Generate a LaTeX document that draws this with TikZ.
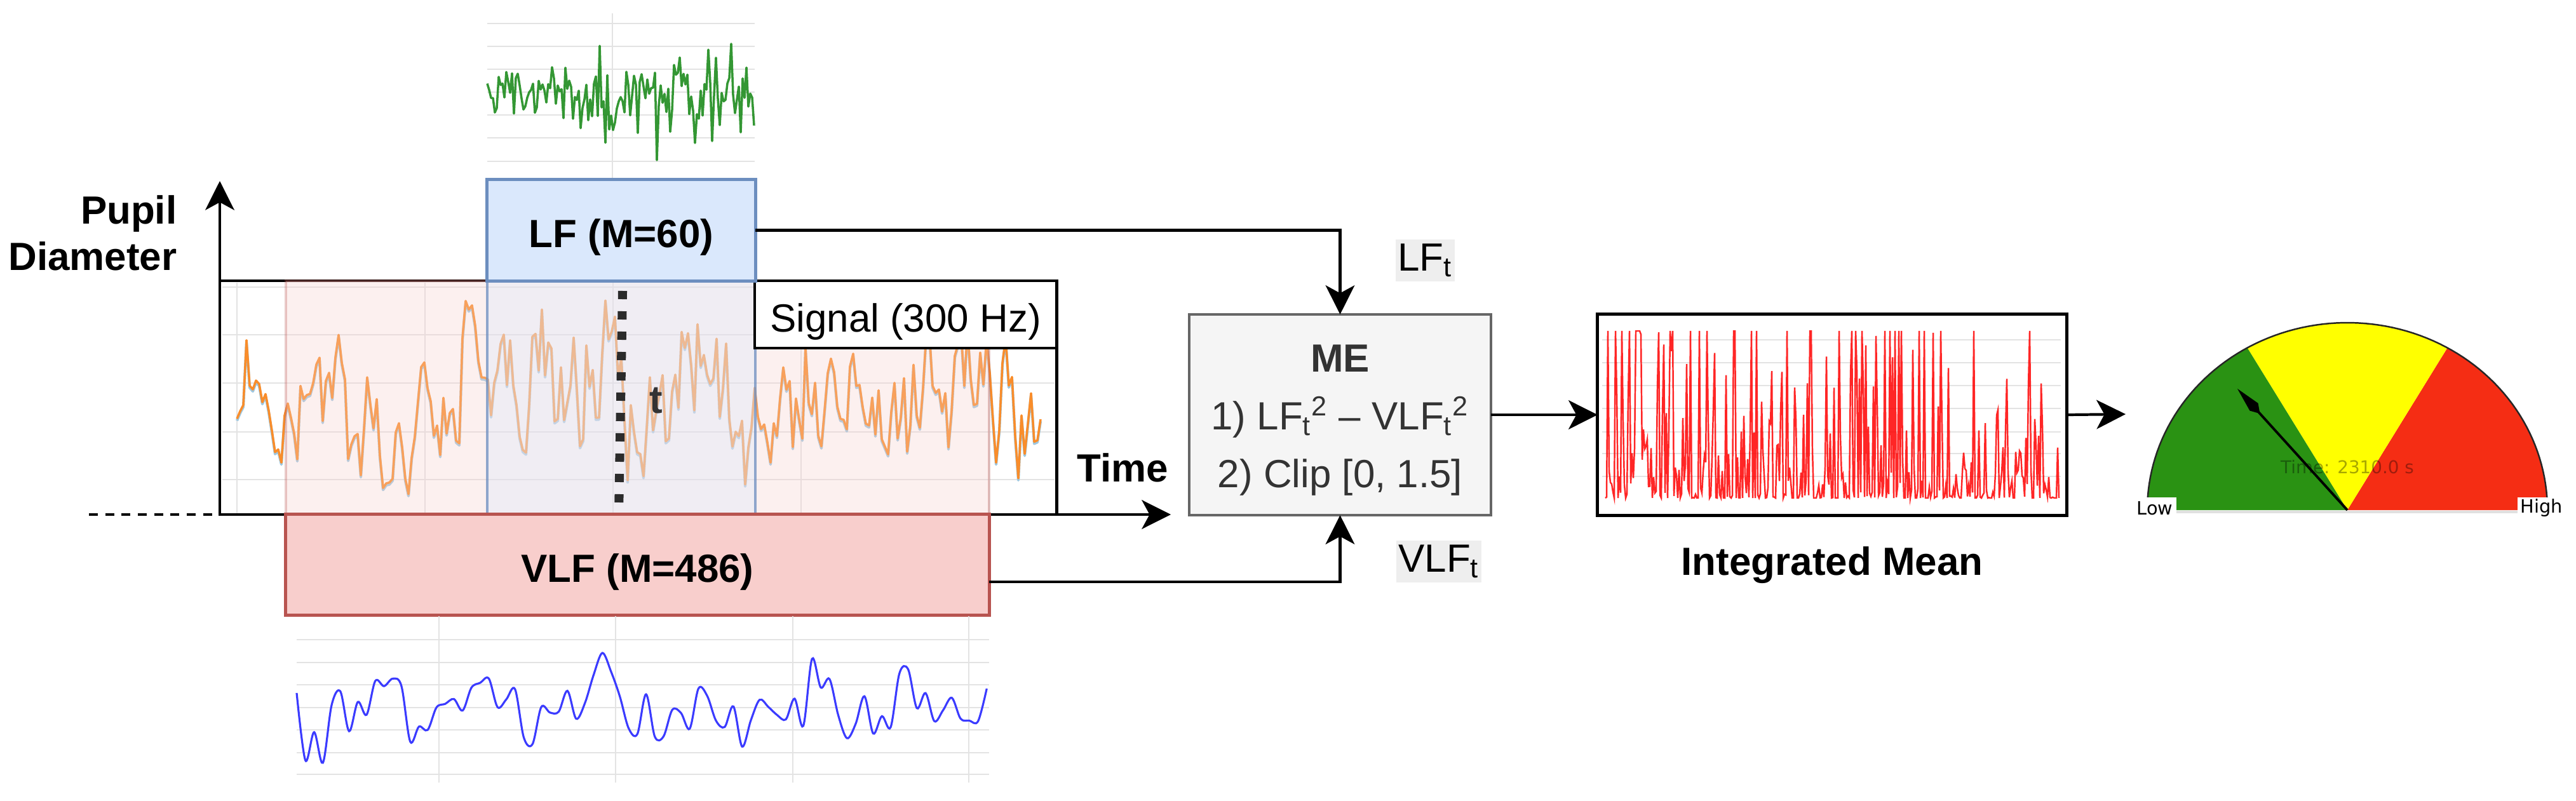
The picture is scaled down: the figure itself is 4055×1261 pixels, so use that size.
\documentclass[tikz,border=0pt]{standalone}
\usepackage{fontspec}
\setmainfont{Liberation Sans}
\newfontfamily\djv{DejaVu Sans}
\usetikzlibrary{arrows.meta}
\definecolor{lfFill}{HTML}{DAE8FC}
\definecolor{lfDraw}{HTML}{6C8EBF}
\definecolor{vlfFill}{HTML}{F8CECC}
\definecolor{vlfDraw}{HTML}{B85450}
\definecolor{meFill}{HTML}{F5F5F5}
\definecolor{meDraw}{HTML}{666666}
\definecolor{meText}{HTML}{333333}
\definecolor{lblBg}{HTML}{EEEEEE}
\definecolor{gridC}{HTML}{E3E3E3}
\definecolor{sigOrange}{HTML}{F98D2B}
\definecolor{sigShadow}{HTML}{9FC8E0}
\definecolor{sigGreen}{HTML}{1E8C1E}
\definecolor{sigBlue}{HTML}{3B3BFF}
\definecolor{sigRed}{HTML}{FF0000}
\definecolor{gGreen}{HTML}{2A9213}
\definecolor{gYellow}{HTML}{FFFF00}
\definecolor{gRed}{HTML}{F52D14}
\definecolor{dotC}{HTML}{2B2B2B}
\newcommand{\fmain}{\fontsize{17.6}{20.8}\selectfont}
\newcommand{\fme}{\fontsize{17.6}{26}\selectfont}
\newcommand{\plotpts}[2]{\edef\myplotcmd{\noexpand\draw[#1] plot coordinates {#2};}\myplotcmd}
\begin{document}
\begin{tikzpicture}[x=0.01cm,y=-0.01cm,
  arr/.style={line width=1.2pt,-{Stealth[length=13pt,width=13pt,inset=3.5pt]}},
  dio/.style={inner sep=0pt,outer sep=0pt,text height=20pt,text depth=4.4pt},
  gridline/.style={gridC,line width=0.6pt},
  boxshape/.style={inner sep=0pt,outer sep=0pt}]
\useasboundingbox (0,0) rectangle (4055,1261);

% ---------- green LF signal (top)
\foreach \yy in {37,73,109,145,181,217,254} \draw[gridline] (767,\yy) -- (1188,\yy);
\draw[gridline] (964,21) -- (964,283);
\pgfmathsetseed{11}
\gdef\greenpts{}
\foreach \i in {0,...,140}{%
  \pgfmathsetmacro\myR{rand}\pgfmathsetmacro\myS{rand}%
  \pgfmathsetmacro\xx{767+3*\i}%
  \pgfmathsetmacro\yy{150-28*\myR-90*\myS*\myS*\myS*\myS*\myS+10*sin(\i*17)}%
  \xdef\greenpts{\greenpts(\xx,\yy)}}
\plotpts{sigGreen,line width=1pt,line join=round,opacity=0.9}{\greenpts}

% ---------- signal box
\node[boxshape,draw,fill=white,line width=1.2pt,minimum width=13.17cm,minimum height=3.68cm] (sigbox) at (1004.5,626) {};
\foreach \yy in {452,527,603,680,755} \draw[gridline] (350,\yy) -- (1660,\yy);
\foreach \xx in {373,669,965,1261,1557} \draw[gridline] (\xx,445) -- (\xx,808);
\pgfmathsetseed{7}
\gdef\orpts{}
\gdef\prevv{0}
\foreach \i in {0,...,253}{%
  \pgfmathsetmacro\myR{rand}\pgfmathsetmacro\myS{rand}%
  \pgfmathsetmacro\vv{0.5*\prevv+85*\myR+60*\myS*\myS*\myS}%
  \xdef\prevv{\vv}%
  \pgfmathsetmacro\xx{373+5*\i}%
  \pgfmathsetmacro\yy{max(468,min(802,635-\vv+30*sin(\i*9)+22*sin(\i*2.7+40)))}%
  \xdef\orpts{\orpts(\xx,\yy)}}
\plotpts{sigShadow,line width=1.2pt,yshift=-0.03cm,line join=round}{\orpts}
\plotpts{sigOrange,line width=1pt,line join=round}{\orpts}

% ---------- axes
\coordinate (o) at (346,810);
\coordinate (ytip) at (346,285);
\coordinate (xtip) at (1843,810);
\coordinate (dl) at (140,810);
\draw[arr] (o) -- (ytip);
\draw[arr] (o) -- (xtip);
\draw[line width=1.2pt,dash pattern=on 4pt off 3.3pt] (dl) -- (o);

% ---------- window overlays
\node[boxshape,draw=vlfDraw,draw opacity=0.3,fill=vlfFill,fill opacity=0.3,line width=1.2pt,minimum width=11.07cm,minimum height=3.68cm] (vlfwin) at (1003.5,626) {};
\node[boxshape,draw=lfDraw,draw opacity=0.75,fill=lfFill,fill opacity=0.35,line width=1.2pt,minimum width=4.22cm,minimum height=3.68cm] (lfwin) at (978,626) {};

% ---------- current time marker
\coordinate (tt) at (980,458);
\coordinate (tb) at (974,810);
\draw[dotC,line width=4pt,dash pattern=on 3.7pt off 5.4pt] (tt) -- (tb);
\node[font=\fmain\bfseries,text=meText,anchor=base west,inner sep=0pt] (tlab) at (1022,650) {t};

% ---------- labels / boxes
\node[draw,fill=white,line width=1.2pt,minimum width=4.75cm,minimum height=1.06cm,dio,font=\fmain] (siglab) at (1425.5,495) {Signal (300 Hz)};
\node[draw=lfDraw,fill=lfFill,line width=1.4pt,minimum width=4.22cm,minimum height=1.59cm,dio,font=\fmain\bfseries] (lf) at (978,362.5) {LF (M=60)};
\node[draw=vlfDraw,fill=vlfFill,line width=1.4pt,minimum width=11.07cm,minimum height=1.58cm,dio,font=\fmain\bfseries] (vlf) at (1003.5,889) {VLF (M=486)};
\node[font=\fmain\bfseries,align=right,anchor=east,inner sep=0pt] (ylab) at (279,367) {Pupil\\Diameter};
\node[font=\fmain\bfseries,anchor=base west,inner sep=0pt] (xlab) at (1695,758) {Time};

% ---------- blue VLF signal (bottom)
\foreach \yy in {1007,1043,1078,1114,1149,1185,1219} \draw[gridline] (467,\yy) -- (1557,\yy);
\foreach \xx in {691,969,1248,1525} \draw[gridline] (\xx,970) -- (\xx,1232);
\pgfmathsetseed{5}
\gdef\bluepts{}
\foreach \i in {0,...,79}{%
  \pgfmathsetmacro\myR{rand}\pgfmathsetmacro\myS{rand}%
  \pgfmathsetmacro\xx{467+13.75*\i}%
  \pgfmathsetmacro\yy{1115-50*\myR-40*\myS*\myS*\myS+18*sin(\i*29)}%
  \xdef\bluepts{\bluepts(\xx,\yy)}}
\plotpts{sigBlue,line width=0.9pt,smooth,tension=0.55}{\bluepts}

% ---------- ME block
\node[draw=meDraw,fill=meFill,line width=1.2pt,minimum width=4.75cm,minimum height=3.16cm,align=center,text=meText,font=\fme,inner sep=0pt,outer sep=0pt] (me) at (2109.5,653)
  {\rule{0pt}{17pt}\textbf{ME}\\1) LF\textsubscript{t}\textsuperscript{2} – VLF\textsubscript{t}\textsuperscript{2}\\2) Clip [0, 1.5]};
\draw[arr] (lf.east) -| (me.north);
\draw[arr] ([yshift=-0.27cm]vlf.east) -| (me.south);
\node[fill=lblBg,font=\fmain,inner xsep=1pt,inner ysep=2pt] (lft) at (2243,410) {LF\textsubscript{t}};
\node[fill=lblBg,font=\fmain,inner xsep=1pt,inner ysep=2pt] (vlft) at (2265,884) {VLF\textsubscript{t}};

% ---------- Integrated mean
\node[draw,fill=white,line width=1.4pt,minimum width=7.38cm,minimum height=3.16cm,inner sep=0pt,outer sep=0pt] (im) at (2884,653) {};
\draw[arr] (me.east) -- (im.west);
\foreach \yy in {535,571,607,643,680,714,750} \draw[gridline] (2522,\yy) -- (3244,\yy);
\pgfmathsetseed{3}
\gdef\redpts{}
\foreach \i in {0,...,357}{%
  \pgfmathsetmacro\myR{rnd}%
  \pgfmathsetmacro\hh{min(1,1.6*\myR^5)}%
  \pgfmathsetmacro\xx{2527+2*\i}%
  \pgfmathsetmacro\yy{784-263*\hh}%
  \xdef\redpts{\redpts(\xx,\yy)}}
\plotpts{sigRed,line width=0.7pt,opacity=0.85}{\redpts}
\node[font=\fmain\bfseries,anchor=base,inner sep=0pt] (imlab) at (2884,905) {Integrated Mean};

% ---------- gauge
\coordinate (gc) at (3695,803);
\coordinate (gin) at (3346,652);
\draw[arr] (im.east) -- (gin);
\fill[gRed] (gc) -- plot[domain=0:60,samples=30] ({3695+315*cos(\x)},{803-295*sin(\x)}) -- cycle;
\fill[gYellow] (gc) -- plot[domain=60:120,samples=30] ({3695+315*cos(\x)},{803-295*sin(\x)}) -- cycle;
\fill[gGreen] (gc) -- plot[domain=120:180,samples=30] ({3695+315*cos(\x)},{803-295*sin(\x)}) -- cycle;
\draw[black!85,line width=0.7pt] plot[domain=0:180,samples=90] ({3695+315*cos(\x)},{803-295*sin(\x)});
\draw[black!12,line width=1pt] (3426,806) -- (3963,806);
\coordinate (ntip) at (3522,612);
\draw[line width=1.1pt,-{Kite[length=15pt,width=5pt,inset=4pt]}] (gc) -- (ntip);
\node[font=\djv\fontsize{7.9}{9}\selectfont,text=black,text opacity=0.35,inner sep=0pt] (gtime) at (3695,735) {Time: 2310.0 s};
\node[fill=white,font=\djv\fontsize{8.2}{9}\selectfont,inner sep=0pt,minimum width=0.68cm,minimum height=0.33cm] (glow) at (3392,800) {Low};
\node[fill=white,font=\djv\fontsize{8.2}{9}\selectfont,inner sep=0pt,minimum width=0.76cm,minimum height=0.33cm] (ghigh) at (4001,800) {High};
\end{tikzpicture}
\end{document}
